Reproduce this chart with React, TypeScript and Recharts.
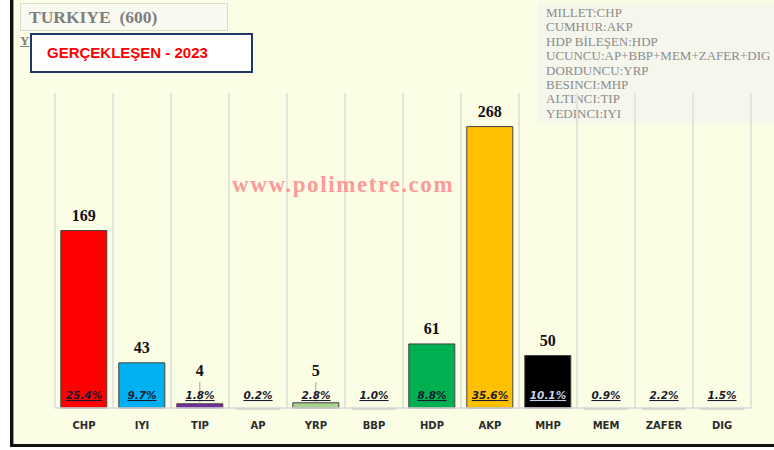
import React from 'react';
import { BarChart, Bar, XAxis, YAxis, CartesianGrid, LabelList, Cell } from 'recharts';

const parties = ['CHP', 'IYI', 'TIP', 'AP', 'YRP', 'BBP', 'HDP', 'AKP', 'MHP', 'MEM', 'ZAFER', 'DIG'];
const seats = [169, 43, 4, 0, 5, 0, 61, 268, 50, 0, 0, 0];
const votePct = [25.4, 9.7, 1.8, 0.2, 2.8, 1.0, 8.8, 35.6, 10.1, 0.9, 2.2, 1.5];
const barColors = ['#ff0000', '#00b0f0', '#7030a0', '#bfbfbf', '#a9d18e', '#bfbfbf', '#00b050', '#ffc000', '#000000', '#bfbfbf', '#bfbfbf', '#bfbfbf'];
const allianceLines = [
    'MILLET:CHP',
    'CUMHUR:AKP',
    'HDP BİLEŞEN:HDP',
    'UCUNCU:AP+BBP+MEM+ZAFER+DIG',
    'DORDUNCU:YRP',
    'BESINCI:MHP',
    'ALTINCI:TIP',
    'YEDINCI:IYI',
];

const data = parties.map((p, i) => ({ party: p, seats: seats[i], pct: votePct[i] }));

const SeatLabel = (props: any) => {
    const { x, y, width, height, value } = props;
    if (!value) return null;
    const cx = x + width / 2;
    if (height < 25) {
        const base = y + height;
        return (
            <g>
                <line x1={cx} x2={cx} y1={base - 26} y2={y} stroke="#a6a6a6" strokeWidth={1} />
                <text x={cx} y={base - 32} textAnchor="middle" fontFamily="'Liberation Serif', serif" fontWeight="bold" fontSize={16} fill="#111">
                    {value}
                </text>
            </g>
        );
    }
    return (
        <text x={cx} y={y - 10} textAnchor="middle" fontFamily="'Liberation Serif', serif" fontWeight="bold" fontSize={16} fill="#111">
            {value}
        </text>
    );
};

// party name under the axis, vote share just above the baseline
const PartyTick = (props: any) => {
    const { x, y, payload, index } = props;
    const i = typeof index === 'number' ? index : parties.indexOf(payload.value);
    const pctColor = payload.value === 'MHP' ? '#c9d3e6' : '#1a1a33';
    return (
        <g>
            {seats[i] === 0 && <line x1={x - 22} x2={x + 22} y1={y - 1} y2={y - 1} stroke="#cfcfc8" strokeWidth={1.5} />}
            <text
                x={x}
                y={y - 11}
                textAnchor="middle"
                fontFamily="'DejaVu Sans', sans-serif"
                fontWeight="bold"
                fontStyle="italic"
                fontSize={10.5}
                fill={pctColor}
                textDecoration="underline"
            >
                {votePct[i].toFixed(1)}%
            </text>
            <text x={x} y={y + 19} textAnchor="middle" fontFamily="'DejaVu Sans', sans-serif" fontWeight="bold" fontSize={10} fill="#2b2b2b">
                {payload.value}
            </text>
        </g>
    );
};

export default function App() {
    return (
        <div style={{ position: 'absolute', left: 0, top: 0, width: 774, height: 450, background: '#fff', overflow: 'hidden' }}>
            {/* plot background + frame */}
            <div style={{ position: 'absolute', left: 14, top: 0, width: 760, height: 444, background: '#fbfee5' }} />
            <div style={{ position: 'absolute', left: 10, top: 0, width: 3, height: 447, background: '#111' }} />
            <div style={{ position: 'absolute', left: 13, top: 0, width: 1, height: 444, background: '#9a9a9a' }} />
            <div style={{ position: 'absolute', left: 10, top: 444, width: 764, height: 3, background: '#111' }} />

            {/* alliance box (behind grid) */}
            <div
                style={{
                    position: 'absolute', left: 538, top: 3, width: 236, height: 120, background: '#f5f6ec',
                    fontFamily: "'Liberation Serif', serif", fontSize: 13, color: '#8c8c8c', lineHeight: '14.4px',
                    paddingLeft: 8, paddingTop: 3, boxSizing: 'border-box', whiteSpace: 'nowrap',
                }}
            >
                {allianceLines.map((t) => (
                    <div key={t}>{t}</div>
                ))}
            </div>

            <div style={{ position: 'absolute', left: 0, top: 0 }}>
                <BarChart width={774} height={450} data={data} margin={{ top: 93, right: 23, bottom: 12, left: 55 }} barCategoryGap="10%">
                    <CartesianGrid
                        horizontal={false}
                        stroke="#e4e5da"
                        strokeWidth={2}
                        verticalCoordinatesGenerator={({ offset }: any) =>
                            parties.concat(['']).map((_, i) => offset.left + (i * offset.width) / parties.length)
                        }
                    />
                    <YAxis hide domain={[0, 300]} />
                    <Bar dataKey="seats" stroke="#404040" strokeWidth={1} isAnimationActive={false}>
                        {data.map((_, i) => (
                            <Cell key={`c-${i}`} fill={barColors[i]} />
                        ))}
                        <LabelList dataKey="seats" content={<SeatLabel />} />
                    </Bar>
                    <XAxis
                        dataKey="party"
                        height={30}
                        axisLine={{ stroke: '#d9d9d9', strokeWidth: 1.5 }}
                        tickLine={false}
                        tickSize={0}
                        tick={<PartyTick />}
                        interval={0}
                    />
                </BarChart>
            </div>

            {/* watermark */}
            <div
                style={{
                    position: 'absolute', left: 232, top: 172, fontFamily: "'Liberation Serif', serif", fontWeight: 'bold',
                    fontSize: 23, color: '#ff9a9a', letterSpacing: 1.6, whiteSpace: 'nowrap',
                }}
            >
                www.polimetre.com
            </div>

            {/* title box */}
            <div
                style={{
                    position: 'absolute', left: 20, top: 3, width: 208, height: 28, background: '#f8f9ef', border: '1px solid #dcdcd2',
                    boxSizing: 'border-box', fontFamily: "'Liberation Serif', serif", fontWeight: 'bold', fontSize: 17.5, color: '#7f7f7f',
                    paddingLeft: 8, lineHeight: '26px', whiteSpace: 'pre',
                }}
            >
                {'TURKIYE  (600)'}
            </div>
            <div
                style={{
                    position: 'absolute', left: 20, top: 33, fontFamily: "'Liberation Serif', serif", fontWeight: 'bold', fontSize: 13,
                    color: '#7f7f7f', textDecoration: 'underline',
                }}
            >
                Y
            </div>
            <div
                style={{
                    position: 'absolute', left: 30, top: 33, width: 223, height: 40, background: '#fff', border: '2px solid #1f3864',
                    boxSizing: 'border-box', fontFamily: "'Liberation Sans', Arial, sans-serif", fontWeight: 'bold', fontSize: 15, color: '#ff0000',
                    paddingLeft: 15, lineHeight: '35px', whiteSpace: 'nowrap',
                }}
            >
                GERÇEKLEŞEN - 2023
            </div>
        </div>
    );
}
